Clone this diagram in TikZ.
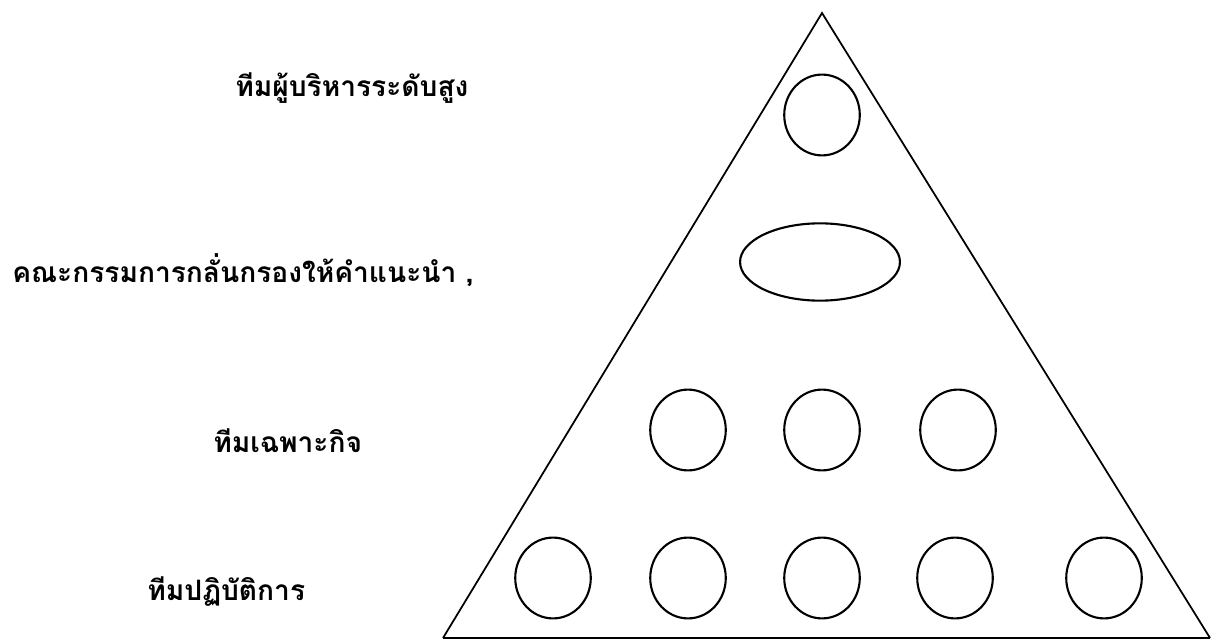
\documentclass[tikz,border=0pt]{standalone}
\usepackage{fontspec}
\newfontfamily\thaifont[Script=Thai]{Loma}
\usetikzlibrary{shapes.geometric,positioning}

\begin{document}
\begin{tikzpicture}[x=0.02cm,y=-0.02cm,
    member/.style={draw,line width=1.2pt,ellipse,minimum width=43pt,minimum height=46pt,inner sep=0pt},
    board/.style={draw,line width=1.2pt,ellipse,minimum width=91pt,minimum height=44pt,inner sep=0pt},
    level/.style={font=\thaifont\bfseries\fontsize{16}{18}\selectfont,inner sep=0pt,anchor=west}]
      \useasboundingbox (0,0) rectangle (1212,641);
      % Pyramid
      \coordinate (apex) at (822,13);
      \coordinate (bl) at (443,638);
      \coordinate (br) at (1210,638);
      \draw[line width=1pt] (bl) -- (apex) -- (br);
      \draw[line width=1pt] (bl) -- (br);
      % Top executives
      \node[level] (top) at (235,88) {ทีมผู้บริหารระดับสูง};
      \node[member] (exec) at (822,115) {};
      % Screening committee
      \node[level] (com) at (12,270) {คณะกรรมการกลั่นกรองให้คำแนะนำ ,};
      \node[board] (panel) at (820,262) {};
      % Task force
      \node[level] (task) at (213,441) {ทีมเฉพาะกิจ};
      \foreach \x/\n in {688/1, 822/2, 958/3}{
        \node[member] (task\n) at (\x,430) {};
      }
      % Operations
      \node[level] (ops) at (147,592) {ทีมปฏิบัติการ};
      \foreach \x/\n in {553/1, 688/2, 822/3, 955/4, 1104/5}{
        \node[member] (ops\n) at (\x,578) {};
      }
\end{tikzpicture}
\end{document}
